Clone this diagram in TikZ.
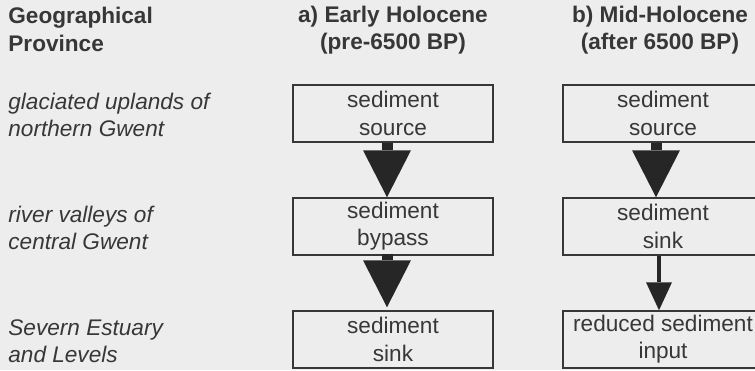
\documentclass[tikz,border=0pt]{standalone}
\usepackage{fontspec}
\setmainfont{Liberation Sans}
\usetikzlibrary{arrows.meta}
\definecolor{ink}{RGB}{55,55,55}
\definecolor{paper}{RGB}{237,237,237}
\definecolor{flow}{RGB}{38,38,38}
\begin{document}
\begin{tikzpicture}[x=0.5pt,y=-0.5pt,
  every node/.style={font=\fontsize{11.3}{13.6}\selectfont, text=ink},
  stage/.style={draw=ink, line width=0.75pt, minimum width=100pt, minimum height=28.5pt, inner sep=0pt, align=center},
  head/.style={font=\fontsize{11.3}{13.6}\selectfont\bfseries, inner sep=0pt, align=center},
  prov/.style={font=\fontsize{11.3}{13.6}\selectfont\itshape, inner sep=0pt, align=left, anchor=west},
  bigflow/.style={draw=flow, line width=5.5pt, -{Triangle[width=24pt,length=23.5pt,line width=0pt]}},
  thinflow/.style={draw=flow, line width=1.8pt, -{Triangle[width=13pt,length=14pt,line width=0pt]}}]
\clip (0,0) rectangle (755,370);
\fill[paper] (0,0) rectangle (755,370);
\node[head, anchor=west, align=left] (prov) at (8,29.5) {Geographical\\Province};
\node[head] (early) at (393,30.5) {a) Early Holocene\\(pre-6500 BP)};
\node[head] (mid) at (660,30.5) {b) Mid-Holocene\\(after 6500 BP)};
\node[prov] (upl) at (8,115) {glaciated uplands of\\northern Gwent};
\node[prov] (val) at (8,228) {river valleys of\\central Gwent};
\node[prov] (est) at (8,341) {Severn Estuary\\and Levels};
\node[stage] (srcA) at (393,113.5) {sediment\\source};
\node[stage] (bypA) at (393,226.5) {sediment\\bypass};
\node[stage] (snkA) at (393,339.5) {sediment\\sink};
\node[stage] (srcB) at (663,113.5) {sediment\\source};
\node[stage] (snkB) at (663,226.5) {sediment\\sink};
\node[stage] (inpB) at (663,339.5) {reduced sediment\\input};
\draw[bigflow] ([xshift=-3pt]srcA.south) -- ([xshift=-3pt]bypA.north);
\draw[bigflow] ([xshift=-3pt,yshift=1pt]bypA.south) -- ([xshift=-3pt,yshift=1.5pt]snkA.north);
\draw[bigflow] ([xshift=-3.5pt]srcB.south) -- ([xshift=-3.5pt]snkB.north);
\draw[thinflow] ([xshift=-2pt]snkB.south) -- ([xshift=-2pt]inpB.north);
\end{tikzpicture}
\end{document}
